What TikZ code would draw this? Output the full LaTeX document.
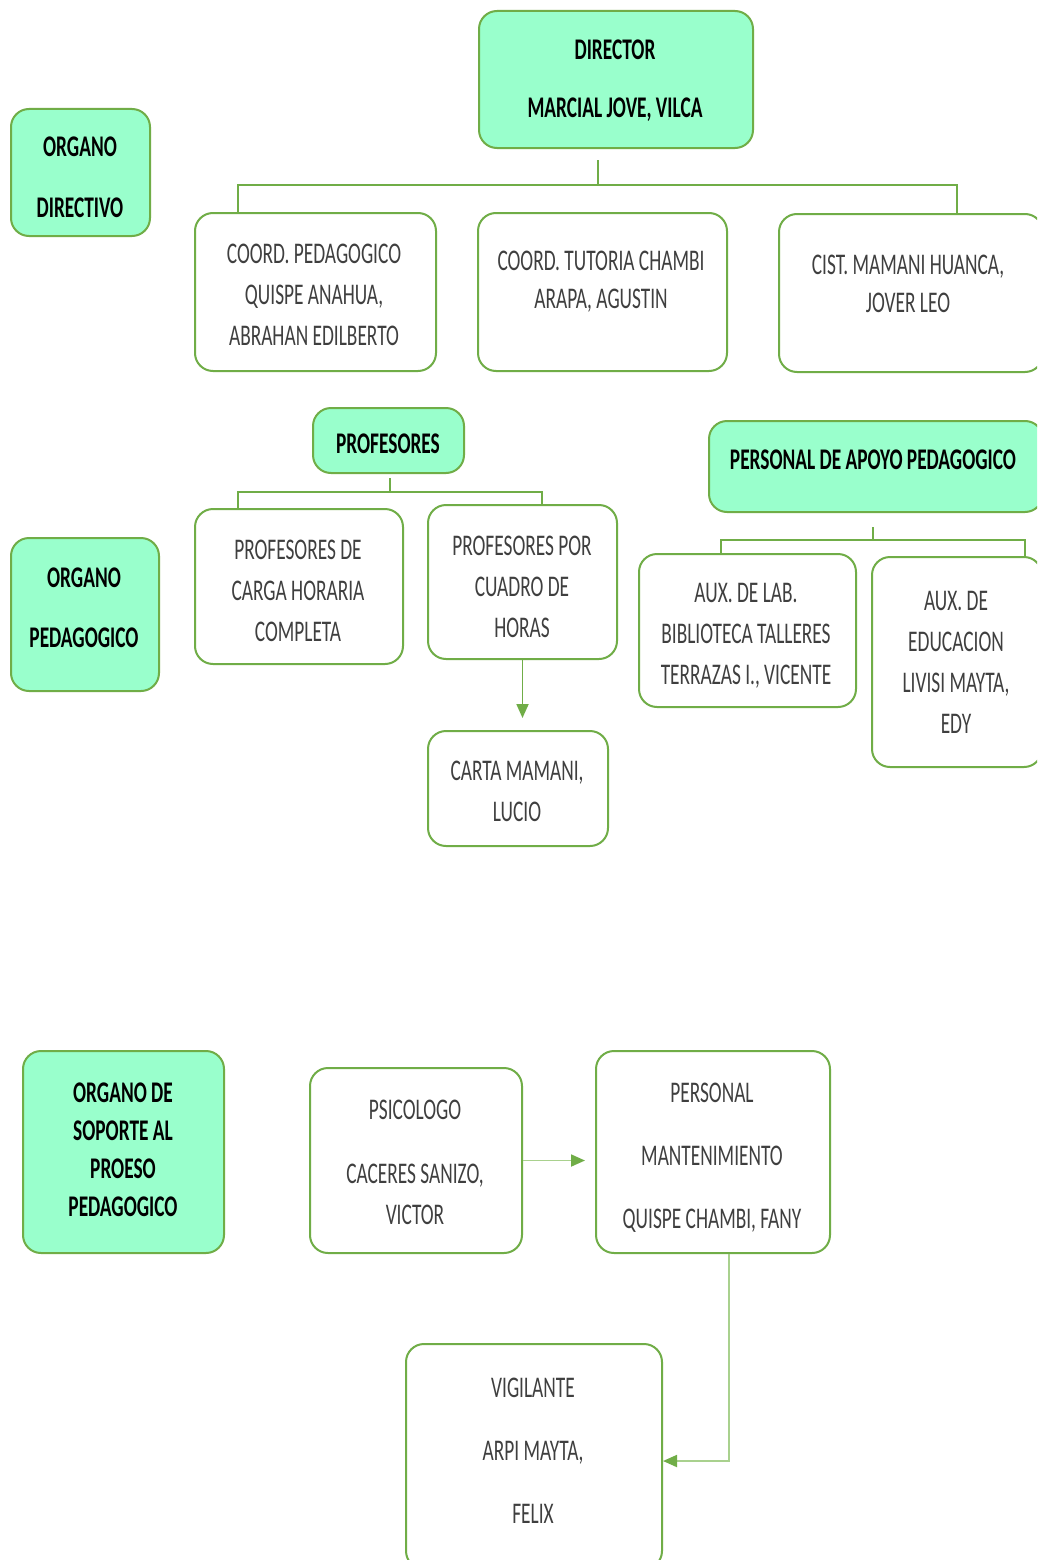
\documentclass[tikz,border=0pt]{standalone}
\usepackage{fontspec}
\setmainfont[FakeStretch=0.645]{Carlito}
\usetikzlibrary{arrows.meta}
\definecolor{boxfill}{HTML}{99FFCC}
\definecolor{edge}{HTML}{70AD47}
\definecolor{lightedge}{HTML}{A9D18E}
\definecolor{txtgray}{HTML}{3F3F3F}
\begin{document}
\begin{tikzpicture}[x=1pt,y=-1pt,
  box/.style={draw=edge, line width=2pt, rounded corners=18pt, fill=white, inner sep=0pt, anchor=north west},
  hbox/.style={box, fill=boxfill},
  lbl/.style={align=center, inner sep=0pt, yshift=-2pt, font=\fontsize{30}{41}\selectfont, text=txtgray},
  blbl/.style={align=center, inner sep=0pt, yshift=-2pt, font=\fontsize{30}{41}\selectfont\bfseries, text=black},
  link/.style={draw=edge, line width=1.8pt},
  arr/.style={link, -{Triangle[length=14pt,width=12pt,color=edge]}}]
\clip (0,0) rectangle (1037,1560);
\fill[white] (0,0) rectangle (1037,1560);

% ---------- boxes ----------
\node[hbox, minimum width=274pt, minimum height=137pt] (dir) at (478,10) {};
\node[hbox, minimum width=139pt, minimum height=127pt] (od) at (10,108) {};
\node[box, minimum width=241pt, minimum height=158pt] (cp) at (194,212) {};
\node[box, minimum width=249pt, minimum height=158pt] (ct) at (477,212) {};
\node[box, minimum width=264pt, minimum height=158pt] (cist) at (778,213) {};
\node[hbox, minimum width=151pt, minimum height=65pt] (prof) at (312,407) {};
\node[hbox, minimum width=334pt, minimum height=91pt] (apoyo) at (708,420) {};
\node[box, minimum width=208pt, minimum height=155pt] (pc) at (194,508) {};
\node[box, minimum width=189pt, minimum height=154pt] (pp) at (427,504) {};
\node[box, minimum width=180pt, minimum height=115pt] (carta) at (427,730) {};
\node[hbox, minimum width=148pt, minimum height=153pt] (op) at (10,537) {};
\node[box, minimum width=217pt, minimum height=153pt] (lab) at (638,553) {};
\node[box, minimum width=170pt, minimum height=210pt] (edu) at (871,556) {};
\node[hbox, minimum width=201pt, minimum height=202pt] (os) at (22,1050) {};
\node[box, minimum width=212pt, minimum height=185pt] (psi) at (309,1067) {};
\node[box, minimum width=234pt, minimum height=202pt] (pm) at (595,1050) {};
\node[box, minimum width=256pt, minimum height=225pt] (vig) at (405,1343) {};

% ---------- texts ----------
\node[blbl] (tdir) at (615,79) {DIRECTOR\\[17pt]MARCIAL JOVE, VILCA};
\node[blbl] (tod) at (80,175) {ORGANO\\[20pt]DIRECTIVO};
\node[lbl] (tcp) at (314,293) {COORD. PEDAGOGICO\\QUISPE ANAHUA,\\ABRAHAN EDILBERTO};
\node[lbl] (tct) at (601,280) {COORD. TUTORIA CHAMBI\\[-3pt]ARAPA, AGUSTIN};
\node[lbl] (tcist) at (908,282) {CIST. MAMANI HUANCA,\\[-3pt]JOVER LEO};
\node[blbl] (tprof) at (388,442) {PROFESORES};
\node[blbl] (tapoyo) at (873,458) {PERSONAL DE APOYO PEDAGOGICO};
\node[lbl] (tpc) at (298,589) {PROFESORES DE\\CARGA HORARIA\\COMPLETA};
\node[lbl] (tpp) at (522,585) {PROFESORES POR\\CUADRO DE\\HORAS};
\node[lbl] (tcarta) at (517,789) {CARTA MAMANI,\\LUCIO};
\node[blbl] (top) at (84,606) {ORGANO\\[19pt]PEDAGOGICO};
\node[lbl] (tlab) at (746,634) {AUX. DE LAB.\\BIBLIOTECA TALLERES\\TERRAZAS I., VICENTE};
\node[lbl] (tedu) at (956,660) {AUX. DE\\EDUCACION\\LIVISI MAYTA,\\EDY};
\node[blbl] (tos) at (123,1148) {ORGANO DE\\[-3pt]SOPORTE AL\\[-3pt]PROESO\\[-3pt]PEDAGOGICO};
\node[lbl] (tpsi) at (415,1160) {PSICOLOGO\\[23pt]CACERES SANIZO,\\VICTOR};
\node[lbl] (tpm) at (712,1156) {PERSONAL\\[22pt]MANTENIMIENTO\\[22pt]QUISPE CHAMBI, FANY};
\node[lbl] (tvig) at (533,1449) {VIGILANTE\\[22pt]ARPI MAYTA,\\[22pt]FELIX};

% ---------- connectors ----------
\coordinate (dstub) at (598,160);
\coordinate (bl) at (238,185);
\coordinate (br) at (957,185);
\draw[link] (dstub) -- (dstub |- bl);
\draw[link] (bl |- cp.north) -- (bl) -- (br) -- (br |- cist.north);

\coordinate (pstub) at (390,478);
\coordinate (pl) at (238,492);
\coordinate (pr) at (542,492);
\draw[link] (pstub) -- (pstub |- pl);
\draw[link] (pl |- pc.north) -- (pl) -- (pr) -- (pr |- pp.north);

\coordinate (astub) at (873,527);
\coordinate (al) at (721,540);
\coordinate (ar) at (1025,540);
\draw[link] (astub) -- (astub |- al);
\draw[link] (al |- lab.north) -- (al) -- (ar) -- (ar |- edu.north);

\draw[arr, shorten >=12pt] (pp.south) -- (pp.south |- carta.north);
\draw[arr, draw=lightedge, shorten >=10pt] (psi.east) -- (psi.east -| pm.west);

\coordinate (mv) at (729,1461);
\draw[arr, draw=lightedge] (mv |- pm.south) -- (mv) -- (mv -| vig.east);
\end{tikzpicture}
\end{document}
